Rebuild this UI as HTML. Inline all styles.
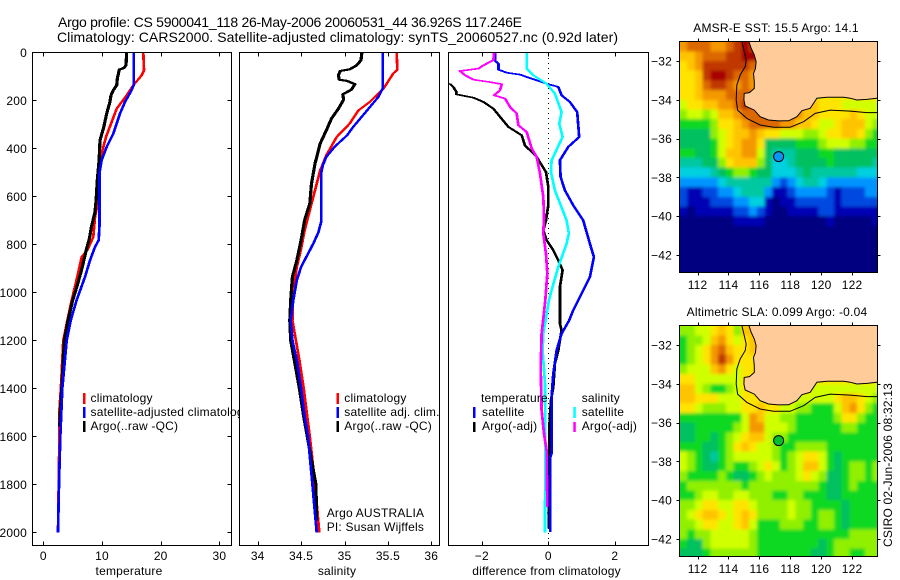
<!DOCTYPE html>
<html lang="en">
<head>
<meta charset="utf-8">
<title>Argo profile</title>
<style>
html,body{margin:0;padding:0;background:#fff;width:900px;height:580px;overflow:hidden}
svg{display:block}
text{font-family:"Liberation Sans",sans-serif;font-size:12px;fill:#000;letter-spacing:0.2px}
.title{font-size:14px;letter-spacing:0}
</style>
</head>
<body>
<svg id="chart" xmlns="http://www.w3.org/2000/svg" width="900" height="580" viewBox="0 0 900 580">
<defs>
<clipPath id="clipTemp"><rect x="33" y="53" width="198" height="492"/></clipPath>
<clipPath id="clipSal"><rect x="240" y="53" width="199" height="492"/></clipPath>
<clipPath id="clipDiff"><rect x="449" y="53" width="199" height="492"/></clipPath>
<clipPath id="clipSst"><rect x="680" y="42" width="197" height="230"/></clipPath>
<clipPath id="clipSla"><rect x="680" y="326" width="197" height="230"/></clipPath>
<filter id="soften" x="-5%" y="-5%" width="110%" height="110%"><feGaussianBlur stdDeviation="1.6"/></filter>
</defs>
<text class="title" x="58" y="27" textLength="464">Argo profile: CS 5900041_118 26-May-2006 20060531_44 36.926S 117.246E</text>
<text class="title" x="57" y="42" textLength="561">Climatology: CARS2000. Satellite-adjusted climatology: synTS_20060527.nc (0.92d later)</text>

<g id="panelTemp"></g>
<g id="legendTemp">
<rect x="83" y="393" width="2.5" height="11" fill="#f00"/>
<rect x="83" y="407" width="2.5" height="11" fill="#00f"/>
<rect x="83" y="421" width="2.5" height="11" fill="#000"/>
<text x="90.5" y="402">climatology</text>
<text x="90.5" y="416">satellite-adjusted climatology</text>
<text x="90.5" y="430">Argo(..raw -QC)</text>
</g>

<g id="panelSal"></g>
<g id="legendSal">
<rect x="336.5" y="393" width="2.5" height="11" fill="#f00"/>
<rect x="336.5" y="407" width="2.5" height="11" fill="#00f"/>
<rect x="336.5" y="421" width="2.5" height="11" fill="#000"/>
<text x="344.3" y="402">climatology</text>
<text x="344.3" y="416">satellite adj. clim.</text>
<text x="344.3" y="430">Argo(..raw -QC)</text>
<text x="326.7" y="517">Argo AUSTRALIA</text>
<text x="326.7" y="531">PI: Susan Wijffels</text>
</g>

<g id="panelDiff"></g>
<g id="legendDiff">
<text x="481" y="402">temperature</text>
<text x="482" y="416">satellite</text>
<text x="482" y="430">Argo(-adj)</text>
<rect x="473" y="407" width="2.5" height="11" fill="#00f"/>
<rect x="473" y="422" width="2.5" height="10" fill="#000"/>
<text x="581.7" y="402">salinity</text>
<text x="581.7" y="416">satellite</text>
<text x="581.7" y="430">Argo(-adj)</text>
<rect x="573.3" y="407" width="2.5" height="11" fill="#0ff"/>
<rect x="573.3" y="422" width="2.5" height="10" fill="#f0f"/>
</g>

<text x="129" y="575" text-anchor="middle">temperature</text>
<text x="337" y="575" text-anchor="middle">salinity</text>
<text x="546.5" y="575" text-anchor="middle">difference from climatology</text>

<text x="776" y="32" text-anchor="middle">AMSR-E SST: 15.5 Argo: 14.1</text>
<text x="777" y="316" text-anchor="middle">Altimetric SLA: 0.099 Argo: -0.04</text>
<g id="mapSst"></g>
<g id="mapSla"></g>
<text transform="translate(892,547) rotate(-90)">CSIRO 02-Jun-2006 08:32:13</text>
</svg>
<script>
/* ---------- profile data (depth in dbar) ---------- */
const depthTicks = [0,200,400,600,800,1000,1200,1400,1600,1800,2000];
const tempTicks = [0,10,20,30];
const salTicks = [34,34.5,35,35.5,36];
const diffTicks = [-2,0,2];
const lonTicks = [112,114,116,118,120,122];
const latTicks = [-32,-34,-36,-38,-40,-42];

const climTempDepth = [0,75,96,137,179,235,290,353,422,505,617,686,769,825,853,936,1033,1117,1200,1400,1500,1600,2000];
const climTempValue = [17.04,17.15,16.76,15.34,14.2,12.5,11.65,10.68,9.94,9.49,9.37,8.8,8.52,7.5,6.54,5.8,4.83,4.1,3.41,3.0,2.73,2.75,2.5];
const satTempDepth = [0,137,158,207,255,339,394,450,505,728,783,811,867,936,1033,1117,1200,1400,1600,1800,2000];
const satTempValue = [15.4,15.4,15.05,13.92,13.07,11.93,10.8,9.94,9.55,9.55,9.43,8.8,7.96,7.1,5.68,4.66,3.98,3.24,2.9,2.67,2.5];
const argoTempDepth = [0,54,65,72,110,137,158,179,207,255,311,367,450,533,617,665,728,776,825,908,978,1033,1117,1200,1400,1500,1560];
const argoTempValue = [14.2,14.09,13.75,12.95,12.6,12.5,11.93,11.53,11.35,10.8,10.3,9.66,9.5,9.2,9.0,8.8,8.2,7.85,7.3,6.5,5.7,5.0,4.2,3.6,3.15,2.9,2.8];

const climSalDepth = [0,72,89,151,207,242,297,353,429,492,575,658,742,818,894,992,1117,1200,1283,1401,1518,1600,1800,2000];
const climSalValue = [35.6,35.61,35.56,35.45,35.29,35.16,35.06,34.91,34.79,34.72,34.66,34.6,34.54,34.5,34.45,34.41,34.4,34.44,34.48,34.53,34.57,34.6,34.66,34.71];
const satSalDepth = [0,151,186,242,311,346,392,436,471,505,707,749,797,853,894,950,1033,1117,1200,1283,1401,1518,1600,1800,2000];
const satSalValue = [35.44,35.44,35.39,35.26,35.1,35.03,34.89,34.79,34.75,34.73,34.73,34.7,34.64,34.56,34.5,34.45,34.41,34.38,34.4,34.45,34.5,34.54,34.58,34.63,34.68];
const argoSalDepth = [0,33,54,71,78,96,114,119,133,156,175,197,235,276,318,380,422,464,547,630,700,783,867,936,1033,1117,1200,1401,1518,1800,1950];
const argoSalValue = [35.2,35.19,35.14,35.06,34.95,34.93,34.94,35.03,35.12,35.08,34.98,34.99,34.93,34.85,34.8,34.72,34.69,34.66,34.62,34.6,34.54,34.5,34.45,34.4,34.38,34.37,34.38,34.48,34.53,34.67,34.68];

const tempSatDiffDepth = [0,36,47,72,85,93,110,131,144,179,207,249,353,394,450,519,575,637,700,797,853,936,992,1075,1117,1172,1242,1339,1436,1672,1686,1999];
const tempSatDiffValue = [-1.6,-1.6,-1.5,-1.5,-1.25,-0.85,-0.5,-0.05,0.3,0.4,0.65,0.87,0.93,0.6,0.35,0.37,0.5,0.75,1.05,1.25,1.37,1.25,1.05,0.75,0.63,0.4,0.25,0.15,0.1,0.1,0.06,0.06];
const tempArgoDiffDepth = [131,144,165,175,189,207,235,269,311,346,388,436,499,561,637,700,742,783,825,867,908,978,1117,1130,1158,1242,1297,1394,1450,1561,1922,1985];
const tempArgoDiffValue = [-2.96,-2.86,-2.76,-2.77,-2.25,-1.95,-1.65,-1.45,-1.2,-0.8,-0.7,-0.35,-0.07,0,0,-0.07,-0.15,-0.05,0.15,0.3,0.43,0.35,0.35,0.35,0.4,0.3,0.2,0.15,0.08,0.03,0.01,0.01];
const salSatDiffDepth = [0,68,96,131,172,249,297,353,450,499,575,700,756,797,894,992,1033,1172,1242,1381,1631,2000];
const salSatDiffValue = [-0.65,-0.65,-0.45,-0.05,0.2,0.4,0.33,0.43,0.1,0.08,0.2,0.55,0.62,0.55,0.3,0.1,0.02,-0.15,-0.17,-0.1,-0.09,-0.1];
const salArgoDiffDepth = [0,33,54,68,78,96,114,124,133,158,179,193,228,255,304,332,401,436,505,603,686,756,839,922,1033,1172,1311,1492,1589,1658,1894];
const salArgoDiffValue = [-1.63,-1.65,-1.95,-2.1,-2.66,-2.5,-2.25,-1.75,-1.4,-1.45,-1.63,-1.3,-1.15,-0.95,-0.9,-0.65,-0.5,-0.35,-0.25,-0.15,-0.13,-0.15,-0.07,-0.03,-0.09,-0.2,-0.23,-0.2,-0.13,-0.05,-0.03];

/* ---------- map data: colour-scale levels on a half-degree grid ---------- */
const sstLevels = [
[12,13,13,13,12,12,13,14,15,14,13,10,10,10,10,10,10,10,10,10,10,10,10,10,10,10],
[11,11,12,13,13,13,14,14,15,15,13,10,10,10,10,10,10,10,10,10,10,10,10,10,10,10],
[10,11,12,14,14,14,14,14,14,13,13,10,10,10,10,10,10,10,10,10,10,10,10,10,10,10],
[10,10,11,14,15,15,14,13,13,12,13,10,10,10,10,10,10,10,10,10,10,10,10,10,10,10],
[10,10,11,13,14,14,13,12,13,12,13,13,13,13,13,11,10,10,10,10,10,10,10,10,10,10],
[10,10,11,12,12,12,13,13,13,13,13,13,13,13,13,12,11,10,10,10,10,10,10,10,10,10],
[9,10,10,11,11,12,12,13,14,13,13,13,13,13,13,12,11,11,10,10,10,9,9,9,9,9],
[8,9,9,8,9,11,11,12,13,13,13,13,13,13,13,12,11,11,10,10,10,10,11,10,9,9],
[7,7,7,7,8,10,10,11,12,13,13,13,13,12,12,11,11,10,9,9,10,11,11,11,9,8],
[6,6,6,6,8,9,10,11,11,12,11,10,10,9,9,9,8,8,9,10,10,11,11,10,8,7],
[6,6,6,6,7,9,10,11,12,12,10,6,6,6,6,7,7,7,8,9,9,9,8,8,7,7],
[7,7,6,6,7,9,11,11,12,12,9,6,5,5,5,6,6,6,7,7,6,6,6,6,6,6],
[5,5,5,6,6,8,10,11,11,11,8,6,4,4,5,6,6,6,6,7,6,6,6,6,6,5],
[4,4,4,4,5,6,7,8,8,7,6,6,4,4,4,5,6,5,5,5,5,5,5,4,4,4],
[3,3,3,3,3,4,5,5,5,5,5,5,3,2,3,4,5,5,4,3,3,3,3,3,3,3],
[2,1,1,2,2,3,3,4,5,5,5,3,1,1,2,3,3,3,3,2,1,2,2,2,3,3],
[2,1,1,1,2,2,2,3,3,4,4,1,0,1,1,2,2,2,2,2,1,2,2,2,2,2],
[1,0,1,1,1,1,1,2,2,3,2,1,0,0,1,1,1,1,2,2,1,1,1,1,1,1],
[0,0,0,0,0,0,0,1,1,1,1,0,0,0,0,0,0,0,0,1,0,0,0,0,0,1],
[0,0,0,0,0,0,0,0,0,0,0,0,0,0,0,0,0,0,0,0,0,0,0,0,0,0],
[0,0,0,0,0,0,0,0,0,0,0,0,0,0,0,0,0,0,0,0,0,0,0,0,0,0],
[0,0,0,0,0,0,0,0,0,0,0,0,0,0,0,0,0,0,0,0,0,0,0,0,0,0],
[0,0,0,0,0,0,0,0,0,0,0,0,0,0,0,0,0,0,0,0,0,0,0,0,0,0],
[0,0,0,0,0,0,0,0,0,0,0,0,0,0,0,0,0,0,0,0,0,0,0,0,0,0]
];
const slaLevels = [
[8,8,9,9,10,11,10,8,11,11,10,10,10,10,10,10,10,10,10,10,10,10,10,10,10,10],
[7,8,8,9,11,12,10,9,10,11,10,10,10,10,10,10,10,10,10,10,10,10,10,10,10,10],
[7,8,9,10,12,13,11,10,10,11,10,10,10,10,10,10,10,10,10,10,10,10,10,10,10,10],
[7,8,9,10,12,14,12,10,10,10,10,10,10,10,10,10,10,10,10,10,10,10,10,10,10,10],
[8,9,9,9,11,12,10,9,10,10,10,10,10,10,10,10,10,10,10,10,10,10,10,10,10,10],
[10,10,9,9,9,9,9,9,10,10,10,10,10,10,10,10,10,10,10,10,10,10,10,10,10,10],
[11,11,9,8,7,7,8,9,10,10,10,10,10,10,10,10,10,9,9,9,9,9,9,9,9,9],
[11,11,10,10,10,9,9,9,10,10,10,10,10,10,10,9,9,9,9,9,10,11,11,10,9,8],
[10,10,9,8,8,8,9,9,10,10,11,10,10,9,9,8,8,7,7,7,9,11,12,10,8,7],
[7,7,7,7,7,7,7,7,9,12,11,9,9,8,8,7,7,7,7,7,8,10,10,8,7,7],
[6,6,7,7,7,7,7,8,9,12,12,9,9,9,8,7,7,7,7,7,7,8,8,7,7,7],
[6,6,7,7,6,7,8,9,10,11,11,9,8,8,7,7,7,7,7,7,7,7,7,7,7,7],
[7,7,7,6,6,7,8,10,11,10,9,9,8,7,7,8,8,8,8,7,7,7,7,7,7,7],
[9,8,7,6,5,7,8,9,9,9,9,9,8,7,8,9,10,10,9,7,6,7,7,7,7,7],
[9,8,7,6,6,7,8,7,7,8,9,10,9,7,8,9,11,11,9,7,6,7,8,8,7,8],
[8,7,7,7,7,8,7,6,6,7,8,9,8,8,8,9,10,9,8,6,6,7,8,8,7,8],
[7,8,8,8,8,8,8,8,7,8,8,8,8,8,8,8,8,8,7,6,6,7,8,7,7,7],
[7,7,8,9,9,8,8,9,9,8,8,8,7,7,8,8,7,7,7,6,6,7,7,7,7,7],
[8,8,9,10,10,9,9,10,10,9,8,8,8,8,9,8,8,7,7,7,7,6,7,7,7,7],
[8,9,10,11,11,10,9,10,11,10,8,8,8,8,9,8,8,7,8,8,7,6,7,7,7,7],
[8,8,9,10,10,9,9,10,11,9,7,7,7,8,8,8,7,7,8,8,7,6,7,7,7,7],
[8,7,8,8,9,9,9,9,9,8,7,7,7,7,7,7,7,7,7,7,7,7,8,8,8,8],
[7,6,6,8,9,9,9,9,9,8,7,7,7,7,7,7,7,7,6,7,8,8,8,8,8,8],
[6,6,6,7,8,8,8,8,8,8,7,7,7,7,7,7,7,6,6,7,8,8,7,7,8,8]
];
const coastLon = [115.32,115.47,115.67,115.79,115.75,115.62,115.67,115.67,115.36,115.02,115.0,115.08,115.67,116.05,116.59,117.24,117.89,118.43,118.75,119.29,119.72,120.37,121.45,121.88,122.31,122.96,123.65];
const coastLat = [-31.0,-31.35,-31.69,-32.03,-32.38,-32.64,-33.07,-33.41,-33.63,-33.67,-34.01,-34.32,-34.53,-34.87,-35.04,-35.09,-35.08,-34.87,-34.56,-34.44,-33.92,-33.87,-33.87,-33.92,-34.01,-33.98,-33.92];
const shelfLon = [114.87,114.97,115.15,115.08,114.76,114.54,114.5,114.59,115.19,116.05,116.92,117.99,118.86,119.61,120.58,121.88,122.96,123.65];
const shelfLat = [-31.0,-31.35,-31.95,-32.29,-32.72,-33.24,-34.01,-34.53,-34.96,-35.3,-35.42,-35.42,-35.13,-34.7,-34.53,-34.58,-34.66,-34.66];
const floatLon = 117.246;
const floatLat = -36.926;

/* ---------- axis functions ---------- */
const yDepth = d => 52.3 + 0.24 * d;
const xTemp = v => 43.3 + 5.87 * v;
const xSal = v => 257.7 + 86.8 * (v - 34);
const xDiff = v => 548.3 + 33.25 * v;
const xLon = lon => 679.5 + (lon - 110.83) * 15.45;
const ySstLat = lat => 61 + (-32 - lat) * 19.4;
const ySlaLat = lat => 345 + (-32 - lat) * 19.4;

const NS = 'http://www.w3.org/2000/svg';
function add(parent, tag, attrs, text) {
  const el = document.createElementNS(NS, tag);
  for (const k in attrs) el.setAttribute(k, attrs[k]);
  if (text !== undefined) el.textContent = text;
  parent.appendChild(el);
  return el;
}
const levelColors = ['#000080','#0000b4','#0048e0','#0094ff','#00d0e0','#00c8a0','#00c060','#10d820','#90f000','#d0ff00','#ffe400','#ffc400','#f49800','#dc6800','#c03800','#a80000'];
const signed = t => String(t).replace('-', '\u2212');

/* each profile is stroked twice, side by side: the original plotter's pen is wider horizontally */
function profile(parent, depths, values, xf, color, width, clip, name) {
  [-0.6, 0.6].forEach(dx => {
    const pts = depths.map((d, i) => (xf(values[i]) + dx).toFixed(1) + ',' + yDepth(d).toFixed(1)).join(' ');
    const line = add(parent, 'polyline', {points: pts, fill: 'none', stroke: color, 'stroke-width': width, 'stroke-linejoin': 'round', 'clip-path': 'url(#' + clip + ')', 'shape-rendering': 'crispEdges'});
    
    
  });
}

function panelFrame(g, left, right, xf, ticks, fmt, showDepth) {
  const top = 52.5, bottom = 545.5;
  const bg = add(g, 'rect', {x: left, y: top, width: right - left, height: bottom - top, fill: '#fff'});
  
  
  ticks.forEach(t => {
    const x = Math.round(xf(t)) + 0.5;
    const up = add(g, 'line', {x1: x, x2: x, y1: top, y2: top + 4, stroke: '#000', 'shape-rendering': 'crispEdges'});
    
    
    const dn = add(g, 'line', {x1: x, x2: x, y1: bottom - 4, y2: bottom, stroke: '#000', 'shape-rendering': 'crispEdges'});
    
    
    const lab = add(g, 'text', {x: xf(t), y: 560, 'text-anchor': 'middle'}, fmt(t));
    
    
  });
  if (showDepth) {
    depthTicks.forEach(d => {
      const y = Math.round(yDepth(d)) + 0.5;
      const l = add(g, 'line', {x1: left, x2: left + 4, y1: y, y2: y, stroke: '#000', 'shape-rendering': 'crispEdges'});
      
      
      const r = add(g, 'line', {x1: right - 4, x2: right, y1: y, y2: y, stroke: '#000', 'shape-rendering': 'crispEdges'});
      
      
      const lab = add(g, 'text', {x: 27, y: yDepth(d) + 4.5, 'text-anchor': 'end'}, String(d));
      
      
    });
  }
}
function panelBorder(g, left, right) {
  const b = add(g, 'rect', {x: left, y: 52.5, width: right - left, height: 493, fill: 'none', stroke: '#000', 'shape-rendering': 'crispEdges'});
  
  
}

function drawMap(g, levels, yLat, clip, top, bottom, markerFill, labelBaseline) {
  const cellLon = 0.5, cellLat = 0.5;
  const clipGroup = add(g, 'g', {'clip-path': 'url(#' + clip + ')'});
  
  
  const field = add(clipGroup, 'g', {filter: 'url(#soften)'});
  
  
  const lastRow = levels.length - 1;
  levels.forEach((row, j) => {
    const lastCol = row.length - 1;
    row.forEach((v, i) => {
      const x0 = xLon(110.83 + i * cellLon) - (i === 0 ? 12 : 0);
      const x1 = xLon(110.83 + (i + 1) * cellLon) + (i === lastCol ? 12 : 0);
      const y0 = yLat(-31 - j * cellLat) - (j === 0 ? 12 : 0);
      const y1 = yLat(-31 - (j + 1) * cellLat) + (j === lastRow ? 12 : 0);
      const c = add(field, 'rect', {x: x0.toFixed(2), y: y0.toFixed(2), width: (x1 - x0 + 0.5).toFixed(2), height: (y1 - y0 + 0.5).toFixed(2), fill: levelColors[v], 'shape-rendering': 'crispEdges'});
      
      
    });
  });
  const coastPts = coastLon.map((lon, i) => xLon(lon).toFixed(1) + ',' + yLat(coastLat[i]).toFixed(1));
  const land = add(g, 'polygon', {points: coastPts.join(' ') + ' ' + xLon(123.65).toFixed(1) + ',' + yLat(-31).toFixed(1), fill: '#ffcc99', 'clip-path': 'url(#' + clip + ')'});
  
  
  const coast = add(g, 'polyline', {points: coastPts.join(' '), fill: 'none', stroke: '#000', 'stroke-width': 1, 'clip-path': 'url(#' + clip + ')'});
  
  
  const shelf = add(g, 'polyline', {points: shelfLon.map((lon, i) => xLon(lon).toFixed(1) + ',' + yLat(shelfLat[i]).toFixed(1)).join(' '), fill: 'none', stroke: '#000', 'stroke-width': 1, 'clip-path': 'url(#' + clip + ')'});
  
  
  const marker = add(g, 'circle', {cx: xLon(floatLon), cy: yLat(floatLat), r: 5, fill: markerFill, stroke: '#000', 'stroke-width': 1});
  
  
  const fr = add(g, 'rect', {x: 679.5, y: top, width: 198, height: bottom - top, fill: 'none', stroke: '#000', 'shape-rendering': 'crispEdges'});
  
  
  lonTicks.forEach(t => {
    const x = Math.round(xLon(t)) + 0.5;
    const a = add(g, 'line', {x1: x, x2: x, y1: top - 3, y2: top, stroke: '#000', 'shape-rendering': 'crispEdges'});
    
    
    const b = add(g, 'line', {x1: x, x2: x, y1: bottom, y2: bottom + 3, stroke: '#000', 'shape-rendering': 'crispEdges'});
    
    
    const lab = add(g, 'text', {x: xLon(t), y: labelBaseline, 'text-anchor': 'middle'}, String(t));
    
    
  });
  latTicks.forEach(t => {
    const y = Math.round(yLat(t)) + 0.5;
    const a = add(g, 'line', {x1: 676.5, x2: 679.5, y1: y, y2: y, stroke: '#000', 'shape-rendering': 'crispEdges'});
    
    
    const b = add(g, 'line', {x1: 877.5, x2: 880.5, y1: y, y2: y, stroke: '#000', 'shape-rendering': 'crispEdges'});
    
    
    const lab = add(g, 'text', {x: 672, y: yLat(t) + 4.5, 'text-anchor': 'end'}, signed(t));
    
    
  });
}

/* ---------- draw ---------- */
const gT = document.getElementById('panelTemp');
panelFrame(gT, 32.5, 231.5, xTemp, tempTicks, String, true);
profile(gT, climTempDepth, climTempValue, xTemp, '#f00', 1.5, 'clipTemp', 'climatology-temperature-line');
profile(gT, argoTempDepth, argoTempValue, xTemp, '#000', 2, 'clipTemp', 'argo-temperature-line');
profile(gT, satTempDepth, satTempValue, xTemp, '#00f', 1.5, 'clipTemp', 'satellite-adjusted-temperature-line');
panelBorder(gT, 32.5, 231.5);

const gS = document.getElementById('panelSal');
panelFrame(gS, 239.5, 439.5, xSal, salTicks, String, false);
profile(gS, climSalDepth, climSalValue, xSal, '#f00', 1.5, 'clipSal', 'climatology-salinity-line');
profile(gS, argoSalDepth, argoSalValue, xSal, '#000', 2, 'clipSal', 'argo-salinity-line');
profile(gS, satSalDepth, satSalValue, xSal, '#00f', 1.5, 'clipSal', 'satellite-adjusted-salinity-line');
panelBorder(gS, 239.5, 439.5);

const gD = document.getElementById('panelDiff');
panelFrame(gD, 448.5, 648.5, xDiff, diffTicks, signed, false);
const zeroLine = add(gD, 'line', {x1: Math.round(xDiff(0)) + 0.5, x2: Math.round(xDiff(0)) + 0.5, y1: 53, y2: 545, stroke: '#000', 'stroke-dasharray': '1 4', 'shape-rendering': 'crispEdges'});


profile(gD, tempArgoDiffDepth, tempArgoDiffValue, xDiff, '#000', 1.5, 'clipDiff', 'temperature-argo-difference-line');
profile(gD, tempSatDiffDepth, tempSatDiffValue, xDiff, '#00f', 1.5, 'clipDiff', 'temperature-satellite-difference-line');
profile(gD, salSatDiffDepth, salSatDiffValue, xDiff, '#0ff', 1.5, 'clipDiff', 'salinity-satellite-difference-line');
profile(gD, salArgoDiffDepth, salArgoDiffValue, xDiff, '#f0f', 1.5, 'clipDiff', 'salinity-argo-difference-line');
panelBorder(gD, 448.5, 648.5);

drawMap(document.getElementById('mapSst'), sstLevels, ySstLat, 'clipSst', 41.5, 272.5, '#0a94f5', 289);
drawMap(document.getElementById('mapSla'), slaLevels, ySlaLat, 'clipSla', 325.5, 556.5, '#00c030', 573);
</script>
</body>
</html>
